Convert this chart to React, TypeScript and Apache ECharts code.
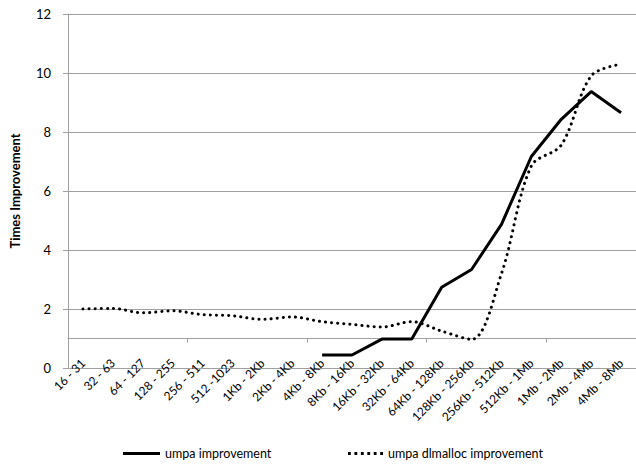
import React, { useEffect, useRef } from "react";
import * as echarts from "echarts";

const categories = [
  "16 - 31", "32 - 63", "64 - 127", "128 - 255", "256 - 511", "512 -1023",
  "1Kb - 2Kb", "2Kb - 4Kb", "4Kb - 8Kb", "8Kb - 16Kb", "16Kb - 32Kb", "32Kb - 64Kb",
  "64Kb - 128Kb", "128Kb - 256Kb", "256Kb - 512Kb", "512Kb - 1Mb", "1Mb - 2Mb",
  "2Mb - 4Mb", "4Mb - 8Mb",
];

const umpaImprovement = [
  null, null, null, null, null, null, null, null,
  0.44, 0.44, 0.98, 0.98, 2.74, 3.34, 4.87, 7.17, 8.43, 9.37, 8.65,
];

const umpaDlmallocImprovement = [
  2.0, 2.02, 1.87, 1.94, 1.81, 1.77, 1.65, 1.73, 1.57, 1.48, 1.39, 1.57,
  1.25, 0.97, 3.2, 6.85, 7.56, 9.9, 10.3,
];

const seriesNames = ["umpa improvement", "umpa dlmalloc improvement"];

const yTicks = { min: 0, max: 12, interval: 2 };
const axisCross = 1;

const FONT = "Lato, 'Open Sans', sans-serif";
const GRID_COLOR = "#a0a0a0";

const SOLID_ICON = "path://M0,0h37v3h-37z";
const DOTTED_ICON =
  "path://M0,0h2.8v2.8h-2.8z M6.4,0h2.8v2.8h-2.8z M12.8,0h2.8v2.8h-2.8z M19.2,0h2.8v2.8h-2.8z M25.6,0h2.8v2.8h-2.8z M32,0h2.8v2.8h-2.8z";

export default function App() {
  const ref = useRef<HTMLDivElement>(null);

  useEffect(() => {
    if (!ref.current) return;
    const chart = echarts.init(ref.current, undefined, { renderer: "svg" });
    const gridTop = 14;
    const gridBottom = 98;
    const plotH = 466 - gridTop - gridBottom;
    const crossFromTop = (plotH * (yTicks.max - axisCross)) / (yTicks.max - yTicks.min);

    const legendBase = {
      top: 447,
      padding: 0,
      itemWidth: 37,
      itemHeight: 14,
      itemGap: 4,
      textStyle: { fontFamily: FONT, fontSize: 12.5, color: "#000" },
    };

    chart.setOption({
      animation: false,
      backgroundColor: "#ffffff",
      textStyle: { fontFamily: FONT },
      grid: { left: 62, right: -4, top: gridTop, bottom: gridBottom, containLabel: false },
      legend: [
        { ...legendBase, left: 123, data: [{ name: seriesNames[0], icon: SOLID_ICON }] },
        { ...legendBase, left: 348, itemWidth: 35, data: [{ name: seriesNames[1], icon: DOTTED_ICON }] },
      ],
      xAxis: [
        {
          type: "category",
          data: categories,
          boundaryGap: true,
          position: "bottom",
          axisLine: { show: false, onZero: false },
          axisTick: { show: false },
          axisLabel: {
            rotate: 45,
            margin: -7,
            interval: 0,
            fontFamily: FONT,
            fontSize: 12,
            color: "#000",
          },
          splitLine: { show: false },
        },
        {
          type: "category",
          data: categories,
          boundaryGap: true,
          position: "top",
          offset: -crossFromTop,
          axisLine: { show: true, onZero: false, lineStyle: { color: GRID_COLOR, width: 1 } },
          axisTick: { show: true, length: 4, inside: true, lineStyle: { color: GRID_COLOR } },
          axisLabel: { show: false },
          splitLine: { show: false },
        },
      ],
      yAxis: {
        type: "value",
        min: yTicks.min,
        max: yTicks.max,
        interval: yTicks.interval,
        name: "Times Improvement",
        nameLocation: "middle",
        nameRotate: 90,
        nameGap: 47,
        nameTextStyle: { fontFamily: FONT, fontSize: 13, fontWeight: "bold", color: "#000" },
        axisLine: { show: true, lineStyle: { color: GRID_COLOR, width: 1 } },
        axisTick: { show: true, length: 5, lineStyle: { color: GRID_COLOR } },
        axisLabel: { margin: 17, fontFamily: FONT, fontSize: 13, color: "#000" },
        splitLine: { show: true, lineStyle: { color: GRID_COLOR, width: 1 } },
      },
      series: [
        {
          name: seriesNames[0],
          type: "line",
          data: umpaImprovement,
          showSymbol: false,
          symbol: "none",
          lineStyle: { color: "#000", width: 3, type: "solid" },
          itemStyle: { color: "#000" },
        },
        {
          name: seriesNames[1],
          type: "line",
          data: umpaDlmallocImprovement,
          smooth: 0.33,
          showSymbol: false,
          symbol: "none",
          lineStyle: { color: "#000", width: 3, type: [0.1, 6], cap: "round" },
          itemStyle: { color: "#000" },
        },
      ],
    });
    return () => chart.dispose();
  }, []);

  return (
    <div
      ref={ref}
      style={{ position: "fixed", left: 0, top: 0, width: 636, height: 466, background: "#fff" }}
    />
  );
}
